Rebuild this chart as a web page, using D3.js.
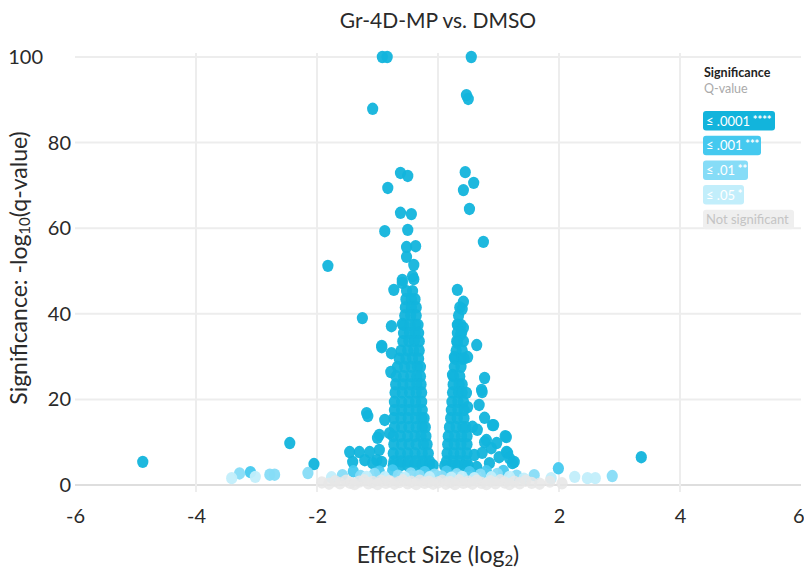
<!DOCTYPE html>
<html>
<head>
<meta charset="utf-8">
<script src="https://cdn.jsdelivr.net/npm/d3@7"></script>
<style>
body { margin: 0; background: #fff; }
svg { display: block; font-family: Lato, sans-serif; }
</style>
</head>
<body>
<script>
const width = 804;
const height = 574;

// tick labels
const xTicks = [-6, -4, -2, 2, 4, 6];
const xGrid = [-4, -2, 0, 2, 4];
const yTicks = [0, 20, 40, 60, 80, 100];

// significance levels (-log10 q thresholds)
const levelNames = ["Not significant", "≤ .05", "≤ .01", "≤ .001", "≤ .0001"];
const levelStars = ["", "*", "**", "***", "****"];
const levelCuts = [1.301, 2, 3, 4];
const levelColors = ["#e6e6e6", "#c2eefb", "#86dcf7", "#45c9ef", "#12b4dc"];

// scattered genes [log2 effect, -log10 q]
const sparsePoints = [
    [-0.92, 100], [-0.84, 100], [0.55, 100], [-1.08, 87.9], [0.47, 91.1], [0.50, 90.2],
    [-0.62, 72.9], [-0.50, 72.2], [-0.83, 69.4], [-0.62, 63.6], [-0.44, 63.3],
    [-0.88, 59.3], [-0.50, 59.6], [-0.52, 55.6], [-0.37, 55.8], [-0.52, 53.3],
    [-0.40, 51.4], [-0.42, 48.8], [-0.59, 47.9], [-0.73, 45.6], [-0.59, 47.2], [-0.40, 48.1],
    [-1.82, 51.2], [-1.25, 39.0], [-0.77, 37.1], [-0.59, 37.6], [-0.93, 32.5], [-0.77, 30.8],
    [-0.78, 26.4], [-1.18, 16.8], [-1.16, 16.1], [-0.88, 15.2], [-0.93, 32.2],
    [0.45, 73.1], [0.59, 70.6], [0.42, 68.9], [0.52, 64.5], [0.75, 56.8],
    [0.32, 45.6], [0.42, 42.8], [0.40, 41.1], [0.32, 37.4], [0.42, 36.7], [0.37, 35.0],
    [0.32, 33.2], [0.64, 32.7], [0.27, 29.9], [0.49, 29.9], [0.24, 25.7], [0.77, 25.0],
    [0.73, 21.7], [0.72, 22.2], [0.47, 21.5], [0.49, 18.2], [0.68, 18.7], [0.77, 15.7],
    [0.92, 14.0], [1.11, 11.4], [0.77, 10.0], [0.88, 8.6], [1.13, 7.7], [1.18, 6.3], [1.26, 5.4],
    [0.57, 13.6], [0.65, 12.9], [0.80, 10.5], [0.97, 9.8], [0.90, 14.0], [1.13, 11.2],
    [1.15, 7.5], [1.23, 5.1], [1.01, 6.5], [0.73, 7.5], [0.85, 5.1], [0.64, 4.2], [0.60, 7.0],
    [3.36, 6.5], [-4.88, 5.4], [-2.45, 9.8], [-2.05, 4.9],
    [-1.46, 7.7], [-1.30, 7.7], [-1.13, 7.7], [-1.00, 11.0], [-0.97, 8.2], [-0.80, 12.1],
    [-1.41, 5.4], [-1.21, 5.8], [-1.08, 5.1], [-0.93, 5.4], [-0.97, 11.7], [-1.01, 5.8]
];

// dense cores: [ -log10 q, [log2 effects...] ]
const leftCore = [
    [4.6, [-0.74, -0.62, -0.50, -0.38, -0.26, -0.14, -0.08]],
    [5.5, [-0.73, -0.61, -0.49, -0.37, -0.25, -0.14]],
    [7.4, [-0.74, -0.62, -0.50, -0.38, -0.26, -0.16]],
    [9.5, [-0.73, -0.60, -0.48, -0.36, -0.24, -0.18]],
    [11.4, [-0.74, -0.62, -0.50, -0.38, -0.28, -0.20]],
    [13.5, [-0.72, -0.60, -0.48, -0.36, -0.26, -0.21]],
    [15.6, [-0.73, -0.61, -0.49, -0.37, -0.27, -0.23]],
    [17.5, [-0.72, -0.60, -0.48, -0.36, -0.26]],
    [19.4, [-0.72, -0.60, -0.48, -0.37, -0.27]],
    [21.6, [-0.71, -0.59, -0.47, -0.36, -0.27]],
    [23.5, [-0.70, -0.58, -0.46, -0.35, -0.28]],
    [25.4, [-0.69, -0.57, -0.45, -0.35, -0.29]],
    [27.6, [-0.67, -0.55, -0.44, -0.34, -0.29]],
    [29.5, [-0.64, -0.53, -0.42, -0.32]],
    [31.4, [-0.61, -0.50, -0.40, -0.31]],
    [33.6, [-0.58, -0.48, -0.39, -0.31]],
    [35.5, [-0.57, -0.47, -0.38, -0.32]],
    [37.4, [-0.56, -0.46, -0.37, -0.33]],
    [39.6, [-0.55, -0.45, -0.36]],
    [41.5, [-0.54, -0.44, -0.36]],
    [43.4, [-0.53, -0.44, -0.38]],
    [45.3, [-0.52, -0.42]]
];

const rightCore = [
    [4.5, [0.11, 0.22, 0.33, 0.44, 0.50]],
    [5.5, [0.14, 0.25, 0.36, 0.47]],
    [7.4, [0.15, 0.26, 0.37, 0.48]],
    [9.5, [0.16, 0.27, 0.38, 0.48]],
    [11.4, [0.17, 0.28, 0.39, 0.48]],
    [13.5, [0.19, 0.30, 0.41, 0.46]],
    [15.6, [0.21, 0.32, 0.43]],
    [17.5, [0.22, 0.33, 0.43]],
    [19.4, [0.23, 0.33, 0.42]],
    [21.6, [0.24, 0.34, 0.40]],
    [23.5, [0.25, 0.35, 0.40]],
    [25.4, [0.26, 0.36]],
    [27.6, [0.27, 0.38]],
    [29.5, [0.28, 0.39, 0.43]],
    [31.4, [0.30, 0.40]],
    [33.6, [0.31, 0.42]],
    [35.5, [0.32, 0.39]],
    [37.4, [0.33, 0.38]],
    [39.6, [0.34]],
    [41.5, [0.36]]
];

// weakly significant genes near the axis
const nearAxis = [
    [-3.41, 1.6], [-3.28, 2.7], [-3.10, 3.0], [-3.02, 1.9], [-2.78, 2.4], [-2.70, 2.4],
    [-2.15, 2.8], [-1.76, 1.8], [-1.58, 2.3], [-1.40, 3.2], [-1.28, 2.1], [-1.18, 1.9],
    [-1.05, 2.6], [-0.97, 3.1], [-0.88, 1.8], [-0.75, 3.4], [-0.66, 2.2], [-0.55, 1.7],
    [-0.45, 2.7], [-0.31, 2.2], [-0.22, 3.0], [-0.14, 1.8], [-0.06, 2.4],
    [0.06, 2.0], [0.14, 3.1], [0.22, 1.7], [0.31, 2.5], [0.40, 1.9], [0.52, 3.0],
    [0.60, 1.6], [0.70, 2.4], [0.80, 3.2], [0.88, 1.8], [0.98, 2.6], [1.08, 3.3],
    [1.18, 1.9], [1.30, 2.2], [1.42, 1.5], [1.59, 2.3], [1.87, 1.6], [1.99, 3.9],
    [2.26, 1.9], [2.47, 1.6], [2.60, 1.6], [2.88, 2.1]
];

const notSig = [
    [-1.92, 0.6], [-1.80, 0.3], [-1.70, 0.9], [-1.62, 0.4], [-1.52, 1.0], [-1.45, 0.5],
    [-1.38, 0.2], [-1.30, 0.8], [-1.22, 1.1], [-1.15, 0.4], [-1.08, 0.7], [-1.00, 0.2],
    [-0.94, 1.0], [-0.86, 0.5], [-0.80, 0.9], [-0.72, 0.3], [-0.64, 0.7], [-0.58, 1.1],
    [-0.50, 0.4], [-0.44, 0.8], [-0.36, 0.2], [-0.30, 1.0], [-0.22, 0.5], [-0.15, 0.8],
    [-0.08, 0.3], [0.00, 0.6], [0.07, 1.0], [0.13, 0.3], [0.20, 0.7], [0.28, 0.2],
    [0.35, 1.1], [0.42, 0.5], [0.50, 0.8], [0.57, 0.3], [0.64, 1.0], [0.72, 0.5],
    [0.80, 0.2], [0.87, 0.9], [0.95, 0.4], [1.03, 1.1], [1.10, 0.6], [1.18, 0.2],
    [1.26, 0.8], [1.35, 0.4], [1.45, 1.0], [1.55, 0.5], [1.68, 0.3], [1.85, 0.8], [2.05, 0.4]
];

let points = sparsePoints
    .concat(leftCore.flatMap(r => r[1].map(v => [v, r[0]])))
    .concat(rightCore.flatMap(r => r[1].map(v => [v, r[0]])))
    .concat(nearAxis)
    .concat(notSig);

// most significant drawn first, grey on top
points.sort((a, b) => b[1] - a[1]);

let svg = d3.select("body")
    .append("svg")
    .attr("width", width)
    .attr("height", height);

let xScale = d3.scaleLinear().domain([-6, 6]).range([75, 801]);
let yScale = d3.scaleLinear().domain([0, 100]).range([485, 57]);
let colorScale = d3.scaleThreshold().domain(levelCuts).range(levelColors);

// grid
svg.append("g")
    .selectAll("line")
    .data(yTicks)
    .join("line")
    .attr("x1", 75)
    .attr("x2", 801)
    .attr("y1", d => yScale(d))
    .attr("y2", d => yScale(d))
    .attr("stroke", d => d === 0 ? "#dedede" : "#ededed")
    .attr("stroke-width", 2);

svg.append("g")
    .selectAll("line")
    .data(xGrid)
    .join("line")
    .attr("x1", d => xScale(d))
    .attr("x2", d => xScale(d))
    .attr("y1", 53)
    .attr("y2", 492)
    .attr("stroke", "#ededed")
    .attr("stroke-width", 2);

// points
svg.append("g")
    .selectAll("ellipse")
    .data(points)
    .join("ellipse")
    .attr("cx", d => xScale(d[0]))
    .attr("cy", d => yScale(d[1]))
    .attr("rx", 5.6)
    .attr("ry", 6.2)
    .attr("fill", d => colorScale(d[1]))
    .attr("opacity", d => d[1] < levelCuts[0] ? 0.85 : 0.95);

// axes
let bottomAxis = d3.axisBottom(xScale)
    .tickValues(xTicks)
    .tickFormat(d => String(d))
    .tickSize(0)
    .tickPadding(24);
let gx = svg.append("g").attr("transform", "translate(0, 485)").call(bottomAxis);
gx.select(".domain").remove();
gx.selectAll("text").style("font-size", "20px").attr("fill", "#2a2a2a").style("font-family", "Lato, sans-serif");
// keep the last label inside the frame
gx.selectAll(".tick text").filter(d => d === 6).attr("text-anchor", "end").attr("x", 3);

let leftAxis = d3.axisLeft(yScale).tickValues(yTicks).tickSize(0).tickPadding(4);
let gy = svg.append("g").attr("transform", "translate(75, 0)").call(leftAxis);
gy.select(".domain").remove();
gy.selectAll("text").style("font-size", "20px").attr("fill", "#2a2a2a").style("font-family", "Lato, sans-serif");
gy.selectAll(".tick text").filter(d => d === 100).attr("x", -32);

// titles
svg.append("text")
    .attr("x", 438)
    .attr("y", 28)
    .attr("text-anchor", "middle")
    .style("font-size", "21px")
    .attr("fill", "#2a2a2a")
    .text("Gr-4D-MP vs. DMSO");

let xt = svg.append("text")
    .attr("x", 438)
    .attr("y", 563)
    .attr("text-anchor", "middle")
    .style("font-size", "23px")
    .attr("fill", "#2a2a2a");
xt.append("tspan").text("Effect Size (log");
xt.append("tspan").text("2").style("font-size", "15px").attr("dy", 3);
xt.append("tspan").text(")").attr("dy", -3);

let yt = svg.append("text")
    .attr("text-anchor", "middle")
    .attr("transform", "translate(27, 268) rotate(-90)")
    .style("font-size", "23px")
    .attr("fill", "#2a2a2a");
yt.append("tspan").text("Significance: -log");
yt.append("tspan").text("10").style("font-size", "15px").attr("dy", 3);
yt.append("tspan").text("(q-value)").attr("dy", -3);

// legend
let legend = svg.append("g").attr("transform", "translate(703, 0)");
legend.append("text")
    .attr("x", 1).attr("y", 77)
    .style("font-size", "12.5px").style("font-weight", "bold")
    .attr("fill", "#222")
    .text("Significance");
legend.append("text")
    .attr("x", 1).attr("y", 93)
    .style("font-size", "12.5px")
    .attr("fill", "#aaa")
    .text("Q-value");

let badgeWidths = [91, 41, 45, 58, 72];
let items = d3.range(5).reverse();
let badge = legend.selectAll("g.badge")
    .data(items)
    .join("g")
    .attr("class", "badge")
    .attr("transform", (d, i) => `translate(0, ${111 + i * 24.7})`);

badge.append("rect")
    .attr("width", d => badgeWidths[d])
    .attr("height", 19.5)
    .attr("rx", 3)
    .attr("fill", d => d === 0 ? "#efefef" : levelColors[d]);

let bt = badge.append("text")
    .attr("x", 3)
    .attr("y", 14.5)
    .style("font-size", "13px")
    .attr("fill", d => d === 0 ? "#c4c4c4" : "#fff");
bt.append("tspan").text(d => levelNames[d]);
bt.append("tspan")
    .text(d => levelStars[d] ? " " + levelStars[d] : "")
    .style("font-size", "11px")
    .style("font-weight", "bold")
    .attr("dy", -2);
</script>
</body>
</html>
